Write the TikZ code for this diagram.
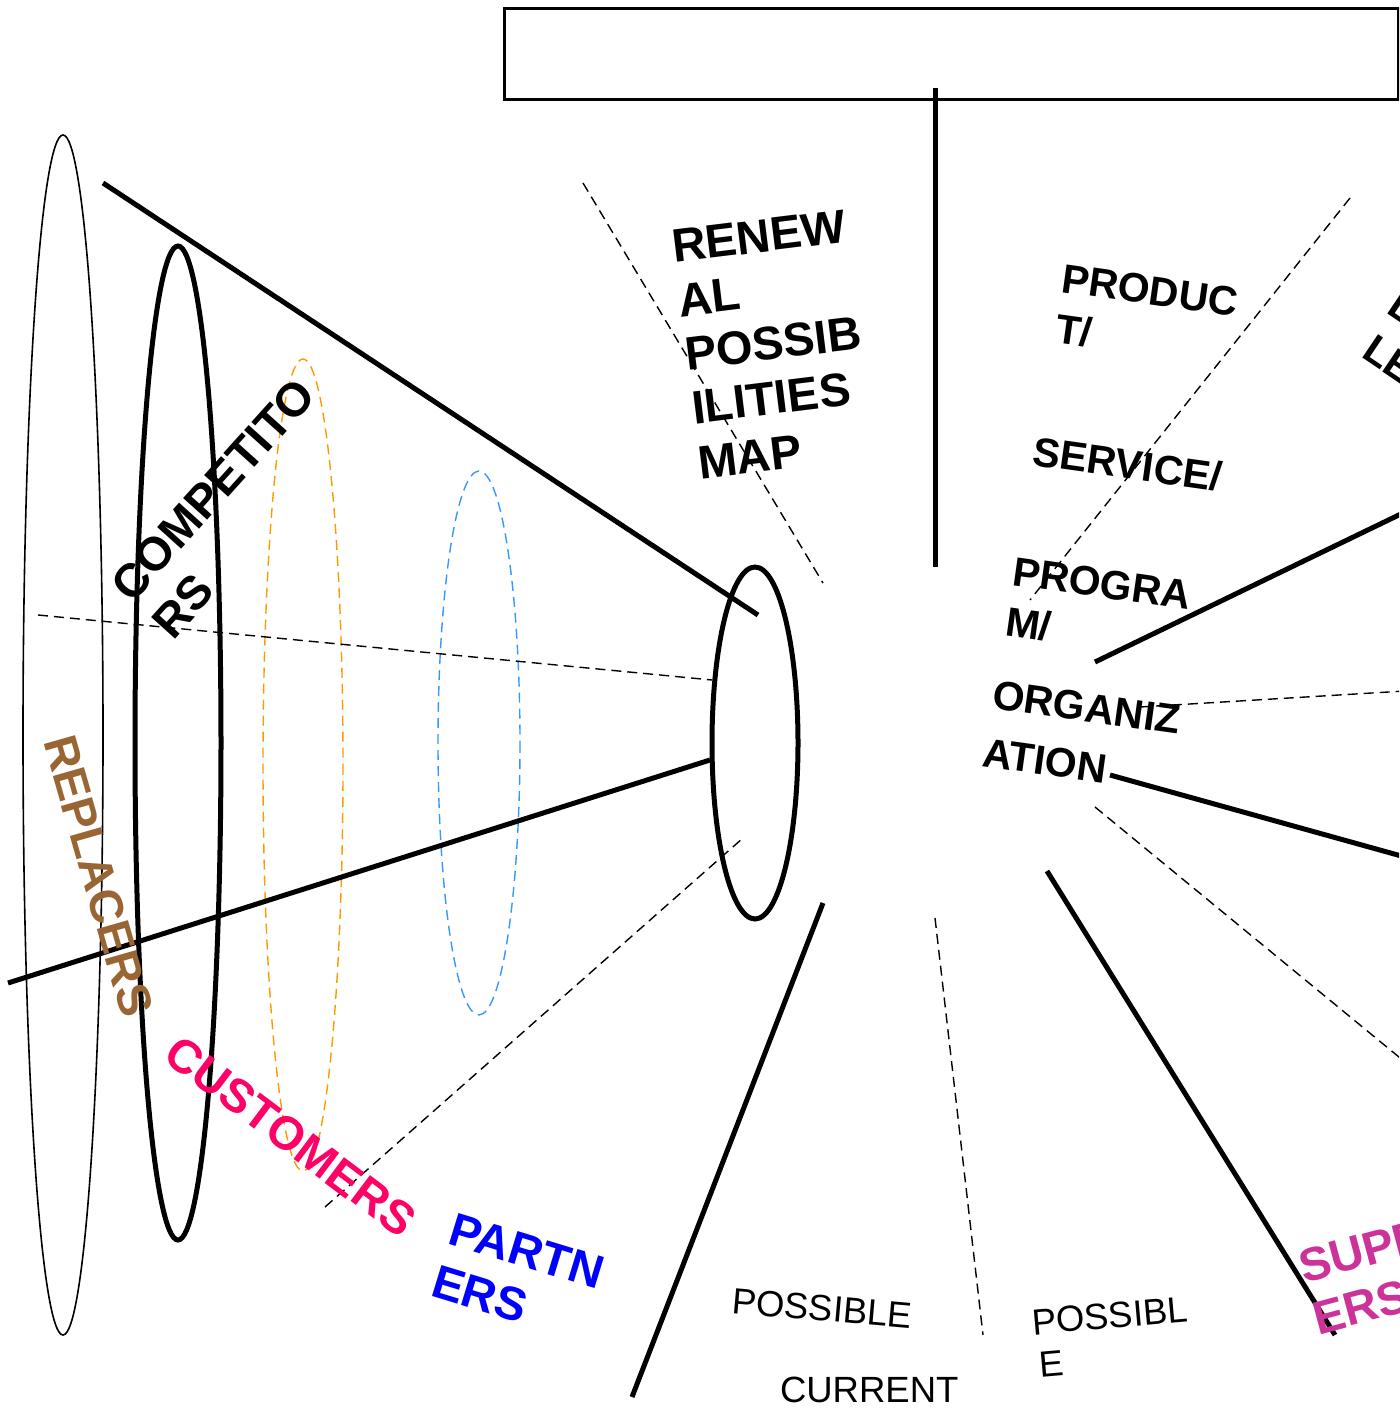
\documentclass[tikz,border=0pt]{standalone}
\usepackage{fontspec}
\setmainfont{Liberation Sans}
\definecolor{repc}{HTML}{996633}
\definecolor{cusc}{HTML}{FF0066}
\definecolor{parc}{HTML}{0000FF}
\definecolor{supc}{HTML}{CC3399}
\definecolor{orc}{HTML}{FF9900}
\definecolor{blc}{HTML}{3399FF}
\tikzset{
  lbl/.style={inner sep=0pt, outer sep=0pt, anchor=base west},
  big/.style={lbl, font=\fontsize{47}{54}\selectfont\bfseries},
  mid/.style={lbl, font=\fontsize{41}{48}\selectfont\bfseries},
  small/.style={lbl, font=\fontsize{36.5}{42}\selectfont},
  thick line/.style={line width=5pt},
  dashline/.style={line width=1.4pt, dash pattern=on 10pt off 6pt},
}
\begin{document}
\begin{tikzpicture}[x=1pt,y=-1pt]
\useasboundingbox (0,0) rectangle (1399,1412);
\clip (0,0) rectangle (1399,1412);
% top box and stem
\node[draw, line width=3pt, minimum width=894pt, minimum height=91pt, inner sep=0pt, anchor=north west] (title) at (503,7) {};
\coordinate (stemtop) at (935,88);
\coordinate (stembot) at (935,567);
\draw[thick line] (stemtop) -- (stembot);
% ellipses
\draw[line width=1.6pt] (63,735) ellipse [x radius=40, y radius=600];
\draw[thick line] (178,743) ellipse [x radius=43, y radius=497];
\draw[orc, dashline] (303,765) ellipse [x radius=40, y radius=406];
\draw[blc, dashline] (479,743) ellipse [x radius=41, y radius=272];
\draw[thick line] (755,743) ellipse [x radius=43, y radius=176];
% left cone lines
\coordinate (a1) at (103,183); \coordinate (a2) at (758,615);
\coordinate (b1) at (8,983);   \coordinate (b2) at (710,760);
\draw[thick line] (a1) -- (a2);
\draw[thick line] (b1) -- (b2);
\coordinate (c1) at (38,615);  \coordinate (c2) at (712,680);
\coordinate (d1) at (325,1207); \coordinate (d2) at (743,838);
\draw[dashline] (c1) -- (c2);
\draw[dashline] (d1) -- (d2);
% radial lines
\coordinate (e1) at (583,183); \coordinate (e2) at (823,583);
\draw[dashline] (e1) -- (e2);
\coordinate (f1) at (1350,198); \coordinate (f2) at (1030,600);
\draw[dashline] (f1) -- (f2);
\coordinate (g1) at (1095,662); \coordinate (g2) at (1405,512);
\draw[thick line] (g1) -- (g2);
\coordinate (h1) at (1140,707); \coordinate (h2) at (1405,691);
\draw[dashline] (h1) -- (h2);
\coordinate (i1) at (1110,775); \coordinate (i2) at (1405,857);
\draw[thick line] (i1) -- (i2);
\coordinate (j1) at (1095,807); \coordinate (j2) at (1405,1062);
\draw[dashline] (j1) -- (j2);
\coordinate (k1) at (1047,871); \coordinate (k2) at (1335,1335);
\draw[thick line] (k1) -- (k2);
\coordinate (l1) at (935,918); \coordinate (l2) at (983,1335);
\draw[dashline] (l1) -- (l2);
\coordinate (m1) at (823,903); \coordinate (m2) at (632,1397);
\draw[thick line] (m1) -- (m2);
% RENEWAL POSSIBILITIES MAP
\node[big, rotate=7] (r1) at (674,263) {RENEW};
\node[big, rotate=7] (r2) at (680,317) {AL};
\node[big, rotate=7] (r3) at (687,370) {POSSIB};
\node[big, rotate=7] (r4) at (694,424) {ILITIES};
\node[big, rotate=7] (r5) at (700,479) {MAP};
% PRODUCT/ SERVICE/ PROGRAM/ ORGANIZATION
\node[mid, rotate=-8] (p1) at (1060,292) {PRODUC};
\node[mid, rotate=-8] (p2) at (1054,342) {T/};
\node[mid, rotate=-8] (p3) at (1031,465) {SERVICE/};
\node[mid, rotate=-8] (p4) at (1011,585) {PROGRA};
\node[mid, rotate=-8] (p5) at (1004,635) {M/};
\node[mid, rotate=-8] (p6) at (991,708) {ORGANIZ};
\node[mid, rotate=-8] (p7) at (981,766) {ATION};
% right partial text
\node[mid, rotate=-34] (q1) at (1385,313) {L};
\node[mid, rotate=-34] (q2) at (1360,356) {LE};
% left labels
\node[big, rotate=48] (co1) at (132,604) {COMPETITO};
\node[big, rotate=48] (co2) at (173,641) {RS};
\node[big, rotate=-74, text=repc] (rep) at (43,741) {REPLACERS};
\node[big, rotate=-37, text=cusc] (cus) at (161,1059) {CUSTOMERS};
\node[big, rotate=-17, text=parc] (pa1) at (446,1243) {PARTN};
\node[big, rotate=-17, text=parc] (pa2) at (429,1295) {ERS};
\node[big, rotate=15, text=supc] (su1) at (1304,1283) {SUPP};
\node[big, rotate=15, text=supc] (su2) at (1318,1335) {ERS};
% bottom labels
\node[small, rotate=-5] (pos1) at (731,1313) {POSSIBLE};
\node[small] (cur) at (780,1402) {CURRENT};
\node[small, rotate=5] (pos2) at (1033,1335) {POSSIBL};
\node[small, rotate=5] (pos3) at (1040,1377) {E};
\end{tikzpicture}
\end{document}
